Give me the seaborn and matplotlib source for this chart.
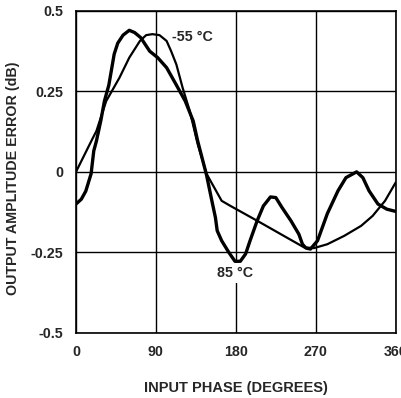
import matplotlib
matplotlib.use("Agg")
import matplotlib.pyplot as plt
import seaborn as sns
import pandas as pd

# 85 °C curve (thick)
x_85 = [0, 6, 11, 17, 20, 23, 28, 32, 37, 43, 47, 53, 60, 66, 73, 77, 83, 92, 102, 113,
        123, 132, 137, 147, 153, 157, 159, 164, 172, 179, 185, 191, 196, 204, 211, 219,
        225, 232, 242, 251, 255, 259, 264, 272, 283, 295, 304, 316, 323, 330, 340, 350, 360]
y_85 = [-0.10, -0.085, -0.06, -0.006, 0.065, 0.096, 0.16, 0.22, 0.27, 0.366, 0.40, 0.425, 0.44,
        0.433, 0.417, 0.40, 0.375, 0.355, 0.324, 0.27, 0.22, 0.158, 0.096, -0.01, -0.09,
        -0.142, -0.183, -0.214, -0.25, -0.278, -0.278, -0.255, -0.214, -0.152, -0.106, -0.078,
        -0.08, -0.111, -0.152, -0.194, -0.225, -0.237, -0.24, -0.214, -0.13, -0.059, -0.018,
        0.0, -0.018, -0.059, -0.10, -0.116, -0.123]

# -55 °C curve (thin)
x_m55 = [0, 9, 18, 23, 34, 49, 60, 72, 79, 86, 94, 102, 107, 113, 120, 128, 137, 147,
         164, 174, 204, 234, 257, 268, 283, 302, 321, 334, 348, 360]
y_m55 = [0.0, 0.05, 0.10, 0.127, 0.22, 0.293, 0.355, 0.407, 0.425, 0.428, 0.425, 0.407,
         0.376, 0.334, 0.262, 0.19, 0.087, -0.006, -0.09, -0.106, -0.152, -0.199, -0.235,
         -0.237, -0.225, -0.199, -0.168, -0.137, -0.09, -0.033]

x_ticks = [0, 90, 180, 270, 360]
x_tick_labels = ["0", "90", "180", "270", "360"]
y_ticks = [0.5, 0.25, 0, -0.25, -0.5]
y_tick_labels = ["0.5", "0.25", "0", "-0.25", "-0.5"]

sns.set_style("white")
plt.rcParams['font.family'] = ['Liberation Sans', 'DejaVu Sans']
plt.rcParams['font.weight'] = 'bold'

fig = plt.figure(figsize=(4.01, 3.98), dpi=100)
ax = fig.add_axes([76 / 401, 1 - 332.7 / 398, (395.7 - 76) / 401, (332.7 - 11) / 398])

df85 = pd.DataFrame({"x": x_85, "y": y_85})
dfm55 = pd.DataFrame({"x": x_m55, "y": y_m55})
sns.lineplot(data=df85, x="x", y="y", ax=ax, color="black", lw=2.4, sort=False,
             solid_joinstyle="round", solid_capstyle="round", zorder=3)
sns.lineplot(data=dfm55, x="x", y="y", ax=ax, color="black", lw=1.6, sort=False,
             solid_joinstyle="round", solid_capstyle="round", zorder=3)

ax.set_xlim(0, 360)
ax.set_ylim(-0.5, 0.5)
ax.set_xticks(x_ticks)
ax.set_xticklabels(x_tick_labels, fontsize=10.3, fontweight="bold")
ax.set_yticks(y_ticks)
ax.set_yticklabels(y_tick_labels, fontsize=10.3, fontweight="bold")
ax.tick_params(length=0, pad=9)
ax.grid(True, color="black", lw=1.0, zorder=1)
ax.set_axisbelow(True)
for s in ax.spines.values():
    s.set_visible(True)
    s.set_color("black")
    s.set_linewidth(1.2)

ax.set_xlabel("INPUT PHASE (DEGREES)", fontsize=10.5, fontweight="bold", labelpad=16)
ax.set_ylabel("OUTPUT AMPLITUDE ERROR (dB)", fontsize=10.3, fontweight="bold")
ax.yaxis.set_label_coords(-(76 - 20) / (395.7 - 76), 0.48)

ax.text(108, 0.419, "-55 °C", fontsize=10.3, fontweight="bold", ha="left", va="center", zorder=4)
ax.text(159, -0.314, "85 °C", fontsize=10.3, fontweight="bold", ha="left", va="center", zorder=4,
        bbox=dict(facecolor="white", edgecolor="none", pad=2))

fig.savefig("out.png", dpi=100)
